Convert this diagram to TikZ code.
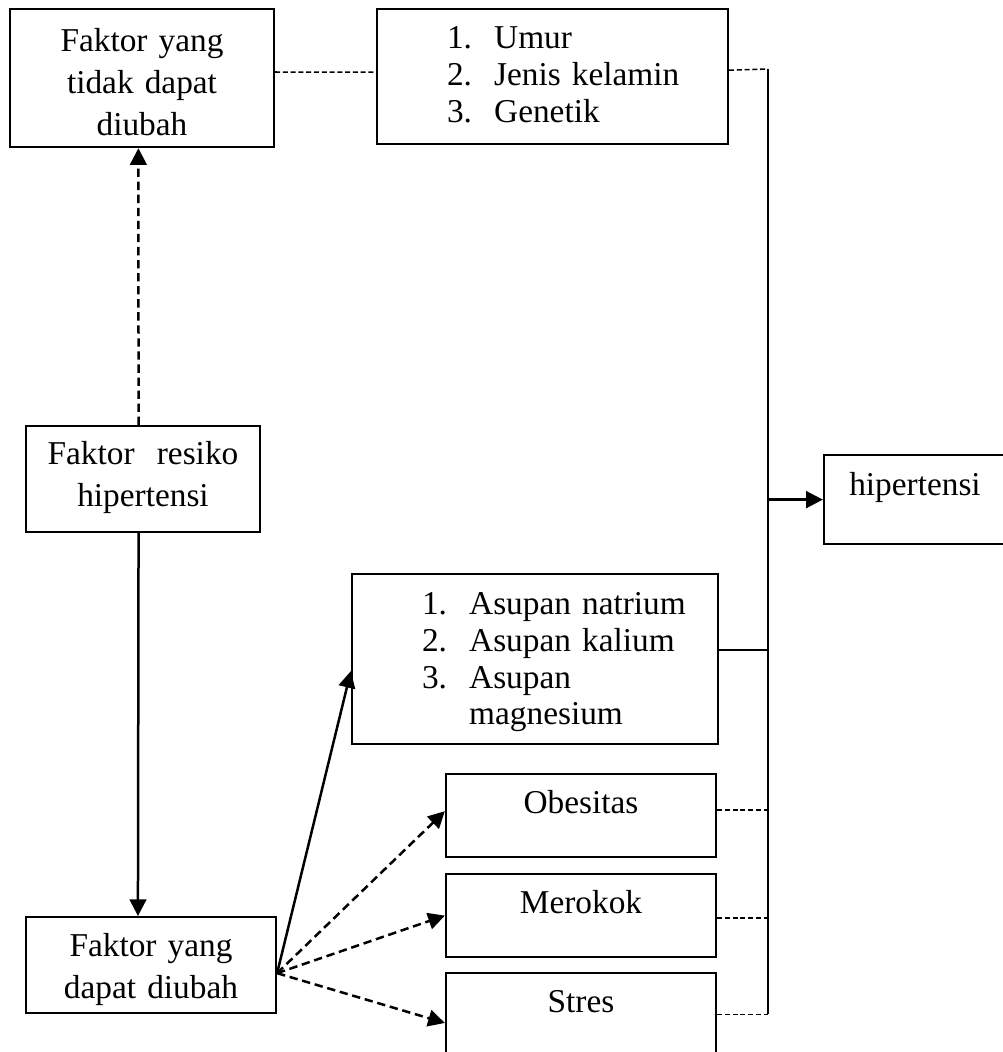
\documentclass[tikz,border=0pt]{standalone}
\usepackage{fontspec}
\setmainfont{Liberation Serif}
\usetikzlibrary{arrows.meta}

\newcommand{\butir}[2]{\hspace*{25.2pt}\makebox[17pt][l]{#1}#2}

\begin{document}
\begin{tikzpicture}[x=0.36pt, y=-0.36pt,
    kotak/.style={draw, line width=0.8pt, rectangle, inner xsep=0pt, inner ysep=0pt,
        anchor=north, align=center, font=\fontsize{12pt}{15.1pt}\selectfont},
    daftar/.style={kotak, align=left, font=\fontsize{12pt}{13.3pt}\selectfont},
    kecil/.style={kotak, text width=97.2pt, text height=14.04pt, text depth=15.84pt},
    panah/.style={line width=0.9pt, -{Triangle[length=6pt,width=6pt]}},
    panahputus/.style={panah, dash pattern=on 3pt off 1.7pt},
    garis/.style={line width=0.65pt},
    putus/.style={line width=0.55pt, dash pattern=on 1.8pt off 1pt}]

\useasboundingbox (0,0) rectangle (1003,1052);

% ---- Boxes ----
\node[kotak, text width=95.04pt, text height=15.12pt, text depth=34.56pt] (tetap) at (142,8)
    {Faktor yang\\tidak dapat\\diubah};
\node[daftar, text width=126.36pt, text height=14.04pt, text depth=34.56pt] (daftarTetap) at (552.5,8)
    {\butir{1.}{Umur}\\\butir{2.}{Jenis kelamin}\\\butir{3.}{Genetik}};
\node[kotak, text width=84.24pt, text height=13.68pt, text depth=24.48pt] (resiko) at (143,425)
    {Faktor \ resiko\\hipertensi};
\node[kotak, text width=90pt, text height=14.04pt, text depth=20.52pt] (ubah) at (151,916)
    {Faktor yang\\dapat diubah};
\node[daftar, text width=131.76pt, text height=14.4pt, text depth=46.8pt] (asupan) at (535,573)
    {\butir{1.}{Asupan natrium}\\\butir{2.}{Asupan kalium}\\\butir{3.}{Asupan}\\\butir{}{magnesium}};
\node[kecil] (obes) at (581,773) {Obesitas};
\node[kecil] (rokok) at (581,873) {Merokok};
\node[kecil] (stres) at (581,972) {Stres};
\node[kotak, text width=65.52pt, text height=14.4pt, text depth=17.64pt] (hiper) at (915,454)
    {hipertensi};

% ---- Coordinates ----
\coordinate (atas) at (768,69);     % top of collecting line
\coordinate (bawah) at (768,1014);  % bottom of collecting line
\coordinate (pangkal) at ([yshift=-2.9pt]ubah.east);

% ---- Left column ----
\draw[panahputus] ([xshift=-1.6pt]resiko.north) -- ([xshift=-1.3pt]tetap.south);
\draw[panah] ([xshift=-1.6pt]resiko.south) -- ([xshift=-4.7pt]ubah.north);
\draw[putus] ([yshift=2.2pt]tetap.east) -- ([yshift=1.6pt]daftarTetap.west);

% ---- Fan out ----
\draw[panah] (pangkal) -- ([yshift=-4.3pt]asupan.west);
\draw[panahputus] (pangkal) -- ([yshift=1.6pt]obes.west);
\draw[panahputus] (pangkal) -- (rokok.west);
\draw[panahputus] (pangkal) -- ([yshift=-3pt]stres.west);

% ---- Collecting line ----
\draw[putus] ([yshift=2.3pt]daftarTetap.east) -- (atas);
\draw[garis] (atas) -- (bawah);
\draw[garis] ([yshift=3.2pt]asupan.east) -- ([yshift=3.2pt]asupan.east -| atas);
\draw[putus] ([yshift=2pt]obes.east) -- ([yshift=2pt]obes.east -| atas);
\draw[putus] ([yshift=-0.9pt]rokok.east) -- ([yshift=-0.9pt]rokok.east -| atas);
\draw[putus] (stres.east) -- (stres.east -| atas);
\draw[panah] (hiper.west -| atas) -- (hiper.west);

\end{tikzpicture}
\end{document}
